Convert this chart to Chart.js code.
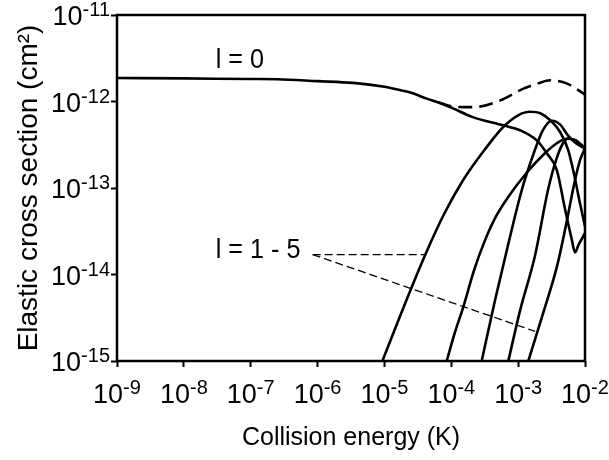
<!DOCTYPE html>
<html>
<head>
<meta charset="utf-8">
<script src="https://cdn.jsdelivr.net/npm/chart.js@4.4.1/dist/chart.umd.min.js"></script>
<style>
  html, body { margin: 0; padding: 0; background: #fff; }
  #wrap { width: 609px; height: 460px; }
</style>
</head>
<body>
<div id="wrap"><canvas id="chart"></canvas></div>
<script>
// Axis ticks (decades)
const energyTicks = [1e-9, 1e-8, 1e-7, 1e-6, 1e-5, 1e-4, 1e-3, 1e-2];
const sigmaTicks = [1e-15, 1e-14, 1e-13, 1e-12, 1e-11];

// l = 0 partial wave
const l0Energy = [1e-9, 1e-8, 1e-7, 2.5e-7, 1e-6, 3.4e-6, 1e-5, 1.35e-5, 2.5e-5, 4.3e-5, 6.3e-5, 1e-4, 2.1e-4, 6e-4, 1.07e-3, 1.9e-3, 2.7e-3, 3.8e-3, 5e-3, 6.3e-3, 7.1e-3, 8e-3, 1e-2];
const l0Sigma = [1.87e-12, 1.85e-12, 1.82e-12, 1.81e-12, 1.72e-12, 1.64e-12, 1.48e-12, 1.41e-12, 1.26e-12, 1.08e-12, 9.8e-13, 8.5e-13, 6.6e-13, 5.3e-13, 4.65e-13, 3.55e-13, 2.5e-13, 1.6e-13, 5.8e-14, 2.6e-14, 1.8e-14, 2.2e-14, 3.0e-14];

// total (dashed)
const totalEnergy = [6.3e-5, 1.12e-4, 2.14e-4, 5.4e-4, 1.2e-3, 2e-3, 3.0e-3, 5.4e-3, 1e-2];
const totalSigma = [9.8e-13, 8.7e-13, 8.6e-13, 1.03e-12, 1.41e-12, 1.62e-12, 1.76e-12, 1.61e-12, 1.2e-12];

// higher partial waves
const l1Energy = [9.33e-6, 1.71e-5, 4.05e-5, 8.05e-5, 1.5e-4, 3.19e-4, 5.93e-4, 1e-3, 1.51e-3, 2.14e-3, 3.02e-3, 4.27e-3, 5.62e-3, 7.08e-3, 8.41e-3, 1e-2];
const l1Sigma = [1e-15, 3.29e-15, 1.67e-14, 5.24e-14, 1.23e-13, 2.8e-13, 5.04e-13, 6.93e-13, 7.6e-13, 7.31e-13, 6.07e-13, 4.41e-13, 2.73e-13, 1.29e-13, 6.65e-14, 3.6e-14];

const l2Energy = [8.53e-5, 1.135e-4, 1.51e-4, 2.19e-4, 3.19e-4, 4.66e-4, 7.05e-4, 1.36e-3, 2.51e-3, 3.8e-3, 5.37e-3, 7.33e-3, 1e-2];
const l2Sigma = [1e-15, 2.15e-15, 4.2e-15, 1.12e-14, 2.48e-14, 4.7e-14, 7.8e-14, 1.52e-13, 2.52e-13, 3.29e-13, 3.71e-13, 3.56e-13, 2.88e-13];

const l3Energy = [2.85e-4, 4.51e-4, 7.05e-4, 1.13e-3, 1.67e-3, 2.34e-3, 3.21e-3, 4.22e-3, 5.56e-3, 7.33e-3, 1e-2];
const l3Sigma = [1e-15, 5.04e-15, 2.18e-14, 9.4e-14, 2.39e-13, 4.65e-13, 5.98e-13, 5.44e-13, 4.06e-13, 3.29e-13, 2.88e-13];

const l4Energy = [7.13e-4, 1.07e-3, 1.79e-3, 2.79e-3, 3.68e-3, 4.69e-3, 5.75e-3, 7.33e-3, 1e-2];
const l4Sigma = [1e-15, 3.85e-15, 1.66e-14, 9.4e-14, 2.09e-13, 3.29e-13, 3.76e-13, 3.47e-13, 2.88e-13];

const l5Energy = [1.42e-3, 2.36e-3, 3.81e-3, 5.19e-3, 7.08e-3, 8.41e-3, 1e-2];
const l5Sigma = [1e-15, 3.56e-15, 1.24e-14, 3.71e-14, 1.23e-13, 2.09e-13, 2.88e-13];

// leader lines for the "l = 1 - 5" label
const leaderFlatEnergy = [8.45e-7, 4.05e-5];
const leaderFlatSigma = [1.7e-14, 1.7e-14];
const leaderSlopeEnergy = [8.45e-7, 1.79e-3];
const leaderSlopeSigma = [1.7e-14, 2.2e-15];

// text labels inside the plot
const noteTexts = ["l = 0", "l = 1 - 5"];
const noteEnergy = [3.0e-8, 3.0e-8];
const noteSigma = [2.42e-12, 1.54e-14];

const fontFamily = "'Liberation Sans', Arial, Helvetica, sans-serif";
const squeeze = 0.9; // note labels in the source figure are a bit narrow

function pts(xs, ys) {
  return xs.map((v, i) => ({x: v, y: ys[i]}));
}

function curve(xs, ys, extra) {
  return Object.assign({
    data: pts(xs, ys),
    borderColor: "#000",
    borderWidth: 2.6,
    pointRadius: 0,
    fill: false,
    cubicInterpolationMode: "monotone"
  }, extra || {});
}

function fillNarrow(ctx, text, x, y) {
  ctx.save();
  ctx.translate(x, y);
  ctx.scale(squeeze, 1);
  ctx.fillText(text, 0, 0);
  ctx.restore();
}

// "10" with the exponent as superscript
function drawPower(ctx, x, baseY, exp, align) {
  const base = "10", sup = String(exp);
  const baseFont = "27px " + fontFamily, supFont = "20px " + fontFamily;
  ctx.font = baseFont;
  const wb = ctx.measureText(base).width;
  ctx.font = supFont;
  const ws = ctx.measureText(sup).width;
  const left = align === "center" ? x - (wb + ws) / 2 : x - (wb + ws);
  ctx.font = baseFont;
  ctx.fillText(base, left, baseY);
  ctx.font = supFont;
  ctx.fillText(sup, left + wb, baseY - 9);
}

const decorations = {
  id: "decorations",
  afterDraw(chart) {
    const {ctx, chartArea: a, scales: {x, y}} = chart;
    ctx.save();
    ctx.strokeStyle = "#000";
    ctx.lineWidth = 2.5;
    ctx.strokeRect(a.left, a.top, a.right - a.left, a.bottom - a.top);

    ctx.fillStyle = "#000";
    ctx.textAlign = "left";
    ctx.textBaseline = "alphabetic";
    energyTicks.forEach(v => {
      drawPower(ctx, x.getPixelForValue(v), a.bottom + 42, Math.round(Math.log10(v)), "center");
    });
    sigmaTicks.forEach(v => {
      drawPower(ctx, a.left - 7, y.getPixelForValue(v) + 10, Math.round(Math.log10(v)), "right");
    });

    ctx.font = "28px " + fontFamily;
    noteTexts.forEach((t, i) => {
      fillNarrow(ctx, t, x.getPixelForValue(noteEnergy[i]), y.getPixelForValue(noteSigma[i]));
    });
    ctx.restore();
  }
};

new Chart("chart", {
  type: "line",
  data: {
    datasets: [
      curve(l0Energy, l0Sigma),
      curve(totalEnergy, totalSigma, {borderDash: [14, 7]}),
      curve(l1Energy, l1Sigma),
      curve(l2Energy, l2Sigma),
      curve(l3Energy, l3Sigma),
      curve(l4Energy, l4Sigma),
      curve(l5Energy, l5Sigma),
      curve(leaderFlatEnergy, leaderFlatSigma, {borderWidth: 1.3, borderDash: [8, 4], cubicInterpolationMode: "default", tension: 0}),
      curve(leaderSlopeEnergy, leaderSlopeSigma, {borderWidth: 1.3, borderDash: [8, 4], cubicInterpolationMode: "default", tension: 0})
    ]
  },
  options: {
    responsive: true,
    maintainAspectRatio: false,
    animation: false,
    layout: { padding: { left: 0, top: 15, right: 24, bottom: 0 } },
    plugins: {
      legend: { display: false },
      tooltip: { enabled: false }
    },
    scales: {
      x: {
        type: "logarithmic",
        min: 1e-9,
        max: 1e-2,
        afterBuildTicks: s => { s.ticks = energyTicks.map(v => ({value: v})); },
        afterFit: s => { s.height = 99; },
        ticks: { display: false },
        grid: { display: true, drawOnChartArea: false, drawTicks: true, tickLength: 6, tickWidth: 2, tickColor: "#000" },
        border: { display: false },
        title: {
          display: true,
          text: "Collision energy (K)",
          color: "#000",
          font: { family: fontFamily, size: 25 },
          padding: { top: 0, bottom: 7 }
        }
      },
      y: {
        type: "logarithmic",
        min: 1e-15,
        max: 1e-11,
        afterBuildTicks: s => { s.ticks = sigmaTicks.map(v => ({value: v})); },
        afterFit: s => { s.width = 117; },
        ticks: { display: false },
        grid: { display: true, drawOnChartArea: false, drawTicks: true, tickLength: 6, tickWidth: 2, tickColor: "#000" },
        border: { display: false },
        title: {
          display: true,
          text: "Elastic cross section (cm²)",
          color: "#000",
          font: { family: fontFamily, size: 28 },
          padding: { top: 12, bottom: 0 }
        }
      }
    }
  },
  plugins: [decorations]
});
</script>
</body>
</html>
